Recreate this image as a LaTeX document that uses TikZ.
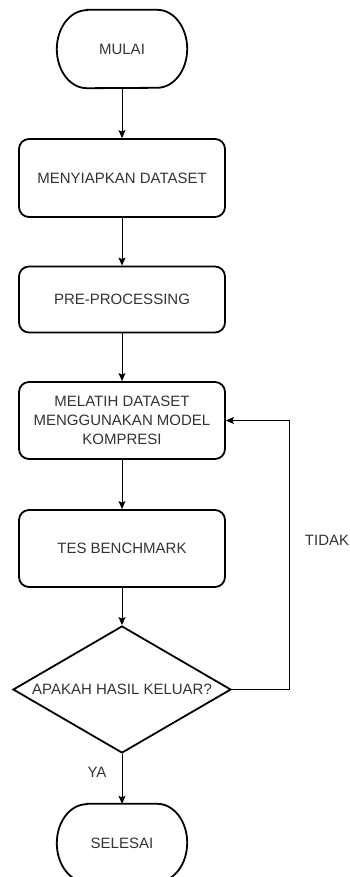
\documentclass[tikz,border=0pt]{standalone}
\usepackage{fontspec}
\setmainfont{Liberation Sans}
\usetikzlibrary{arrows.meta,shapes.geometric}
\definecolor{txt}{HTML}{333333}
\begin{document}
\begin{tikzpicture}[x=1pt,y=-1pt,
  every node/.style={font=\fontsize{15}{19}\selectfont, text=txt},
  term/.style={minimum width=130pt, minimum height=78pt, inner sep=0pt},
  outline/.style={draw=black, line width=1.8pt},
  proc/.style={outline, rounded corners=10pt, minimum width=206pt, inner sep=0pt, align=center},
  dec/.style={outline, diamond, minimum width=218pt, minimum height=127pt, inner sep=0pt},
  conn/.style={draw=black, line width=1pt, -{Stealth[length=8pt,width=7pt,inset=1.5pt]}},
  lbl/.style={inner sep=0pt}]
\useasboundingbox (0,0) rectangle (350,877);
\clip (0,0) rectangle (350,877);
\node[term] (mulai) at (122,49) {MULAI};
\node[proc, minimum height=78pt] (s1) at (122,178) {MENYIAPKAN DATASET};
\node[proc, minimum height=66pt] (s2) at (122,299.5) {PRE-PROCESSING};
\node[proc, minimum height=77pt] (s3) at (122,420.5) {MELATIH DATASET\\MENGGUNAKAN MODEL\\KOMPRESI};
\node[proc, minimum height=77pt] (s4) at (122,548.5) {TES BENCHMARK};
\node[dec] (d) at (122,689.5) {};
\node[lbl] (dtext) at (122,689.5) {APAKAH HASIL KELUAR?};
\node[term] (selesai) at (122,843) {SELESAI};
\foreach \t in {mulai,selesai}{
  \draw[outline] ([xshift=30pt]\t.north west) -- ([xshift=-30pt]\t.north east)
    arc[start angle=90, end angle=-90, x radius=30pt, y radius=39pt]
    -- ([xshift=30pt]\t.south west)
    arc[start angle=270, end angle=90, x radius=30pt, y radius=39pt] -- cycle;
}
\coordinate (c1) at (289,689.5);
\coordinate (c2) at (289,420.5);
\draw[conn] (mulai.south) -- (s1.north);
\draw[conn] (s1.south) -- (s2.north);
\draw[conn] (s2.south) -- (s3.north);
\draw[conn] (s3.south) -- (s4.north);
\draw[conn] (s4.south) -- (d.north);
\draw[conn] (d.south) -- (selesai.north);
\draw[conn] (d.east) -- (c1) -- (c2) -- (s3.east);
\node[lbl] (tidak) at (327,540) {TIDAK};
\node[lbl] (ya) at (97,772) {YA};
\end{tikzpicture}
\end{document}
